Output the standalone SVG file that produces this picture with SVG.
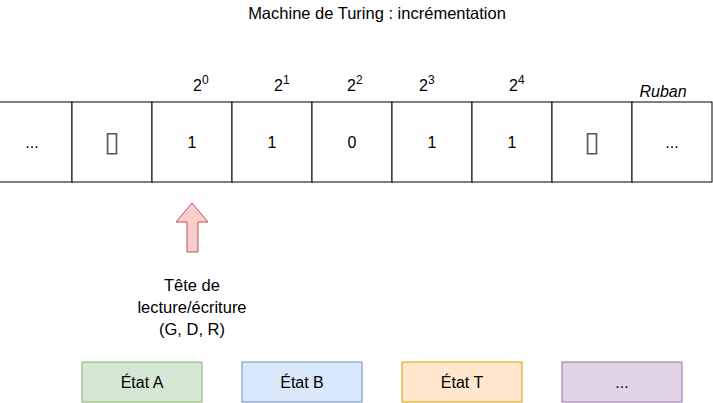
<svg xmlns="http://www.w3.org/2000/svg" width="713" height="403" viewBox="0 0 713 403">
<style>
text{font-family:"Liberation Sans",Arial,sans-serif;fill:#000}
.cell{fill:#fff;stroke:#000;stroke-width:1}
.c{font-size:16px;text-anchor:middle}
.p{font-size:16px}
.s{font-size:12px}
.lbl{font-size:16.5px;text-anchor:middle}
.st{font-size:16px;text-anchor:middle}
.blank{font-family:"DejaVu Sans",sans-serif;font-size:28px;text-anchor:middle;fill:#555}
</style>
<rect width="713" height="403" fill="#fff"/>
<g id="title"><text x="377" y="19" style="font-size:16.5px;text-anchor:middle">Machine de Turing : incrémentation</text></g>
<g id="ruban">
<text x="663" y="97" style="font-size:16px;font-style:italic;text-anchor:middle">Ruban</text>
<g id="cell0"><rect class="cell" x="-8" y="102" width="80" height="80"/><text class="c" x="32" y="148">...</text></g>
<g id="cell1"><rect class="cell" x="72" y="102" width="80" height="80"/><text class="blank" x="112" y="151">▯</text></g>
<g id="cell2"><rect class="cell" x="152" y="102" width="80" height="80"/><text class="c" x="192" y="148">1</text></g>
<g id="cell3"><rect class="cell" x="232" y="102" width="80" height="80"/><text class="c" x="272" y="148">1</text></g>
<g id="cell4"><rect class="cell" x="312" y="102" width="80" height="80"/><text class="c" x="352" y="148">0</text></g>
<g id="cell5"><rect class="cell" x="392" y="102" width="80" height="80"/><text class="c" x="432" y="148">1</text></g>
<g id="cell6"><rect class="cell" x="472" y="102" width="80" height="80"/><text class="c" x="512" y="148">1</text></g>
<g id="cell7"><rect class="cell" x="552" y="102" width="80" height="80"/><text class="blank" x="592" y="151">▯</text></g>
<g id="cell8"><rect class="cell" x="632" y="102" width="80" height="80"/><text class="c" x="672" y="148">...</text></g>
</g>
<g id="powers">
<text x="193" y="91"><tspan class="p">2</tspan><tspan class="s" dy="-7">0</tspan></text>
<text x="274" y="91"><tspan class="p">2</tspan><tspan class="s" dy="-7">1</tspan></text>
<text x="347" y="91"><tspan class="p">2</tspan><tspan class="s" dy="-7">2</tspan></text>
<text x="419" y="91"><tspan class="p">2</tspan><tspan class="s" dy="-7">3</tspan></text>
<text x="509" y="91"><tspan class="p">2</tspan><tspan class="s" dy="-7">4</tspan></text>
</g>
<g id="head">
<polygon points="192,203 208,222 198,222 198,252 187,252 187,222 176,222" fill="#f8cecc" stroke="#b85450" stroke-width="1"/>
<text class="lbl" x="192" y="291">Tête de</text>
<text class="lbl" x="192" y="313">lecture/écriture</text>
<text class="lbl" x="192" y="335">(G, D, R)</text>
</g>
<g id="etatA"><rect x="82" y="362" width="120" height="40" fill="#d5e8d4" stroke="#82b366"/><text class="st" x="142" y="388">État A</text></g>
<g id="etatB"><rect x="242" y="362" width="120" height="40" fill="#dae8fc" stroke="#6c8ebf"/><text class="st" x="302" y="388">État B</text></g>
<g id="etatT"><rect x="402" y="362" width="120" height="40" fill="#ffe6cc" stroke="#d79b00"/><text class="st" x="462" y="388">État T</text></g>
<g id="etatD"><rect x="562" y="362" width="120" height="40" fill="#e1d5e7" stroke="#9673a6"/><text class="st" x="622" y="388">...</text></g>
<g id="connectors"></g>
</svg>
